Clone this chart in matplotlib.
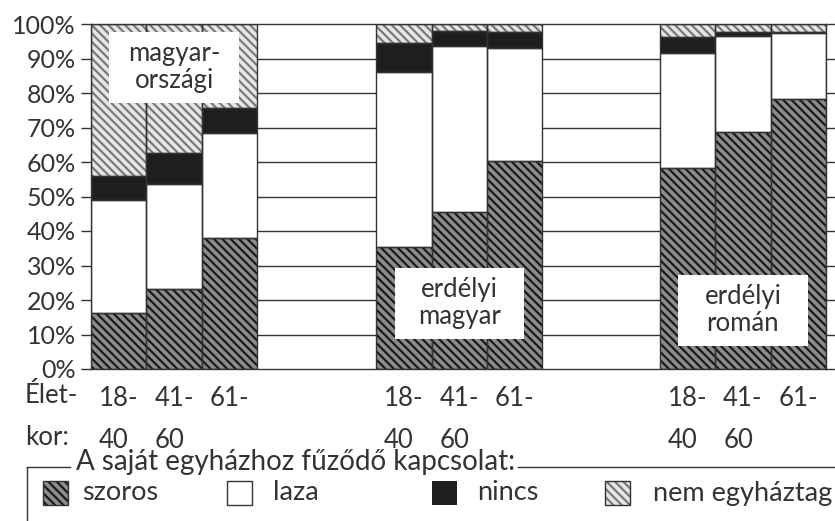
import matplotlib
matplotlib.use('Agg')
import matplotlib.pyplot as plt
from matplotlib.patches import Rectangle
from matplotlib.lines import Line2D
import numpy as np

# shares (%) per age group, in the order: magyarországi, erdélyi magyar, erdélyi román
age_labels = ['18-\n40', '41-\n60', '61-']
group_names = ['magyar-\nországi', 'erdélyi\nmagyar', 'erdélyi\nromán']
szoros = [16.3, 23.1, 37.9, 35.3, 45.6, 60.3, 58.2, 68.8, 78.3]
laza = [32.7, 30.4, 30.6, 50.9, 48.0, 32.7, 33.5, 27.7, 19.0]
nincs = [7.0, 9.0, 7.1, 8.2, 4.4, 4.8, 4.6, 1.3, 0.5]
nem_egyhaztag = [44.0, 37.5, 24.4, 5.6, 2.0, 2.2, 3.7, 2.2, 2.2]

series_names = ['szoros', 'laza', 'nincs', 'nem egyháztag']
legend_title = 'A saját egyházhoz fűződő kapcsolat:'

txt = '#333333'
plt.rcParams['font.family'] = ['Lato', 'DejaVu Sans']
plt.rcParams['hatch.linewidth'] = 1.6

styles = [
    dict(facecolor='#8c8c8c', hatchcolor='#1a1a1a', hatch='\\\\\\\\'),
    dict(facecolor='white', hatchcolor='white', hatch=None),
    dict(facecolor='#1e1e1e', hatchcolor='#1e1e1e', hatch=None),
    dict(facecolor='#e6e6e6', hatchcolor='#7a7a7a', hatch='\\\\\\\\'),
]

fig = plt.figure(figsize=(8.35, 5.21), dpi=100)
ax = fig.add_axes([91 / 835, 1 - 369 / 521, 735 / 835, 345 / 521])

group_starts = [0, 5.15, 10.27]
pos = np.array([g + i for g in group_starts for i in range(3)])

# horizontal lines running through the gaps
for v in range(10, 100, 10):
    ax.axhline(v, color=txt, lw=1, zorder=0)

data = [szoros, laza, nincs, nem_egyhaztag]
bottom = np.zeros(len(pos))
for vals, st in zip(data, styles):
    vals = np.array(vals)
    ax.bar(pos, vals, width=1, bottom=bottom, align='edge', color=st['facecolor'],
           edgecolor=st['hatchcolor'], hatch=st['hatch'], linewidth=0, zorder=2)
    ax.bar(pos, vals, width=1, bottom=bottom, align='edge', fill=False,
           edgecolor=txt, linewidth=1, zorder=3)
    bottom += vals

# group captions in white boxes
box_y = [87.4, 19.0, 17.0]
for g, name, yc in zip(group_starts, group_names, box_y):
    xc = g + 1.5
    ax.add_patch(Rectangle((xc - 1.17, yc - 10.3), 2.34, 20.6, facecolor='white',
                           edgecolor='none', zorder=4))
    ax.text(xc, yc, name, ha='center', va='center', fontsize=18.5, color=txt,
            linespacing=1.1, zorder=5)

ax.set_xlim(0, group_starts[-1] + 3)
ax.set_ylim(0, 100)
ax.set_yticks(range(0, 101, 10))
ax.set_yticklabels([f'{v}%' for v in range(0, 101, 10)])
ax.set_xticks(pos + 0.5)
ax.set_xticklabels(age_labels * 3, multialignment='left', linespacing=1.85)
ax.tick_params(axis='y', which='both', direction='out', length=7, width=1,
               color=txt, labelcolor=txt, labelsize=18, pad=4, right=True)
ax.tick_params(axis='x', length=0, labelcolor=txt, labelsize=18.5, pad=12)
for s in ax.spines.values():
    s.set_color(txt)
    s.set_linewidth(1)
    s.set_zorder(6)

fig.text(25 / 835, 1 - 383 / 521, 'Élet-\nkor:', ha='left', va='top', fontsize=18.5,
         color=txt, linespacing=1.85)

# legend, drawn by hand to follow the original frame
ly = 1 - 467 / 521
fig.add_artist(Line2D([27 / 835, 70 / 835], [ly, ly], color=txt, lw=1))
fig.add_artist(Line2D([518 / 835, 1.0], [ly, ly], color=txt, lw=1))
fig.add_artist(Line2D([27 / 835, 27 / 835], [ly, 0], color=txt, lw=1))
fig.text(76 / 835, 1 - 462 / 521, legend_title, ha='left', va='center', fontsize=20,
         color=txt)

sq_x = [43, 227, 432, 605]
lab_x = [82, 273, 477, 653]
for name, st, sx, tx in zip(series_names, styles, sq_x, lab_x):
    fig.add_artist(Rectangle((sx / 835, 1 - 505 / 521), 25 / 835, 24 / 521,
                             transform=fig.transFigure, facecolor=st['facecolor'],
                             edgecolor=st['hatchcolor'], hatch=st['hatch'], linewidth=0))
    fig.add_artist(Rectangle((sx / 835, 1 - 505 / 521), 25 / 835, 24 / 521,
                             transform=fig.transFigure, fill=False, edgecolor=txt,
                             linewidth=1 if name != 'nincs' else 0))
    fig.text(tx / 835, 1 - 493 / 521, name, ha='left', va='center', fontsize=19.5,
             color=txt)

fig.savefig('out.png', dpi=100)
